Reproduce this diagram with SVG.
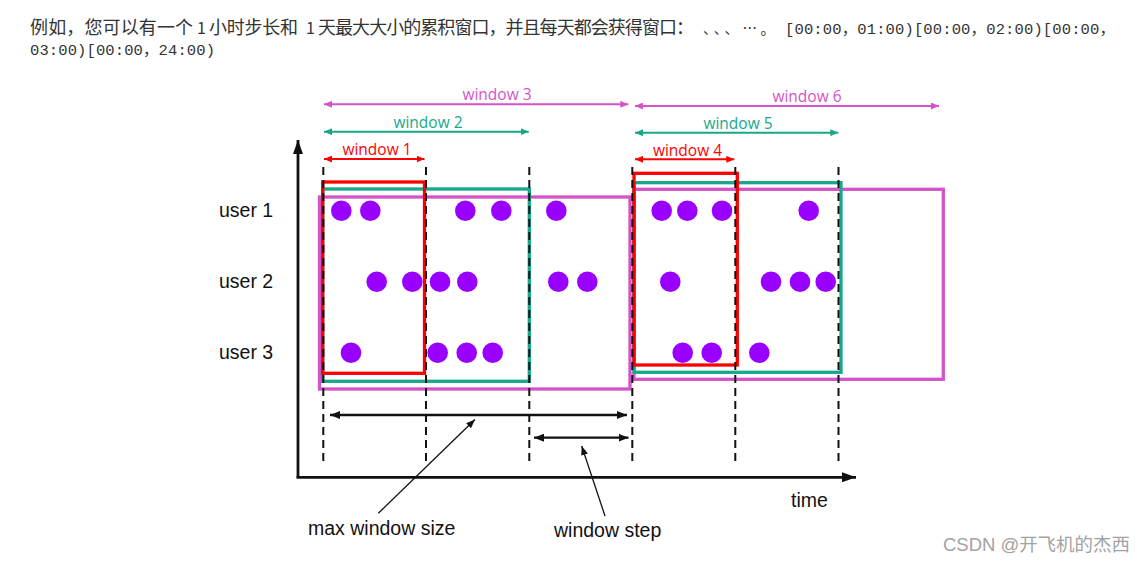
<svg xmlns="http://www.w3.org/2000/svg" width="1148" height="561" viewBox="0 0 1148 561">
<style>
.cjk{font-family:"Noto Sans CJK SC","Noto Sans",sans-serif;font-size:18px;fill:#333}
.mono{font-family:"Liberation Mono","Noto Sans CJK SC",monospace;font-size:15.5px;fill:#333}
.lbl{font-family:"Liberation Sans",Arial,sans-serif;font-size:19.5px;fill:#111}
.wl{font-family:"Open Sans","Liberation Sans",sans-serif;font-size:15.5px;text-anchor:middle}
.dash{stroke:#111;stroke-width:2;stroke-dasharray:8 5;fill:none}
.win{fill:none;stroke-width:3.3}
.red{stroke:#ff0000}
.teal{stroke:#17a88a}
.mag{stroke:#d553c8}
.tred{fill:#ff0000}
.tteal{fill:#17a88a}
.tmag{fill:#d553c8}
.span{stroke-width:2;fill:none}
.dot{fill:#9900ff}
.axis{stroke:#111;stroke-width:2.8;fill:none}
.blk{stroke:#111;stroke-width:2.3;fill:none}
.ptr{stroke:#111;stroke-width:1.3;fill:none}
</style>
<defs>
<marker id="ah-red" viewBox="0 0 10 10" refX="10" refY="5" markerUnits="userSpaceOnUse" markerWidth="8" markerHeight="7" preserveAspectRatio="none" orient="auto-start-reverse"><path d="M0,0L10,5L0,10z" fill="#ff0000"/></marker>
<marker id="ah-teal" viewBox="0 0 10 10" refX="10" refY="5" markerUnits="userSpaceOnUse" markerWidth="8" markerHeight="7" preserveAspectRatio="none" orient="auto-start-reverse"><path d="M0,0L10,5L0,10z" fill="#17a88a"/></marker>
<marker id="ah-mag" viewBox="0 0 10 10" refX="10" refY="5" markerUnits="userSpaceOnUse" markerWidth="8" markerHeight="7" preserveAspectRatio="none" orient="auto-start-reverse"><path d="M0,0L10,5L0,10z" fill="#d553c8"/></marker>
<marker id="ah-blk" viewBox="0 0 10 10" refX="10" refY="5" markerUnits="userSpaceOnUse" markerWidth="10" markerHeight="8" preserveAspectRatio="none" orient="auto-start-reverse"><path d="M0,0L10,5L0,10z" fill="#111"/></marker>
<marker id="ah-ptr" viewBox="0 0 10 10" refX="10" refY="5" markerUnits="userSpaceOnUse" markerWidth="9" markerHeight="7" preserveAspectRatio="none" orient="auto-start-reverse"><path d="M0,0L10,5L0,10z" fill="#111"/></marker>
<marker id="ah-axis" viewBox="0 0 10 10" refX="10" refY="5" markerUnits="userSpaceOnUse" markerWidth="14" markerHeight="10" preserveAspectRatio="none" orient="auto-start-reverse"><path d="M0,0L10,5L0,10z" fill="#111"/></marker>
</defs>

<g id="header">
<text class="cjk" x="30" y="33.5" textLength="163" lengthAdjust="spacing">例如，您可以有一个</text>
<text class="cjk" x="197" y="33.5" style="font-size:16px">1</text>
<text class="cjk" x="209" y="33.5" textLength="89" lengthAdjust="spacing">小时步长和</text>
<text class="cjk" x="306" y="33.5" style="font-size:16px">1</text>
<text class="cjk" x="318" y="33.5" textLength="376" lengthAdjust="spacing">天最大大小的累积窗口，并且每天都会获得窗口：</text>
<text class="cjk" x="703" y="33.5" style="font-size:14.5px" textLength="72" lengthAdjust="spacing">、、、…。</text>
<text class="mono" x="785" y="33.5" textLength="330" lengthAdjust="spacing">[00:00，01:00)[00:00，02:00)[00:00，</text>
<text class="mono" x="30" y="55" textLength="185" lengthAdjust="spacing">03:00)[00:00，24:00)</text>
</g>

<g id="axes">
<line class="axis" x1="298" y1="478" x2="298" y2="140" marker-end="url(#ah-axis)"/>
<line class="axis" x1="296.6" y1="477.3" x2="856" y2="477.3" marker-end="url(#ah-axis)"/>
<text class="lbl" x="791" y="507">time</text>
</g>

<g id="row-labels">
<text class="lbl" x="219" y="217">user 1</text>
<text class="lbl" x="219" y="288">user 2</text>
<text class="lbl" x="219" y="359">user 3</text>
</g>

<g id="window-3"><rect class="win mag" x="319.5" y="197" width="310.5" height="192"/><text class="wl tmag" x="497" y="100">window 3</text></g>
<g id="window-2"><rect class="win teal" x="322.7" y="189" width="206.6" height="192.3"/><text class="wl tteal" x="428" y="127.7">window 2</text></g>
<g id="window-1"><rect class="win red" x="322.7" y="182" width="101.8" height="191.3"/><text class="wl tred" x="377" y="155">window 1</text></g>

<g id="window-6"><rect class="win mag" x="634" y="189.3" width="309.3" height="190"/><text class="wl tmag" x="807" y="101.7">window 6</text></g>
<g id="window-5"><rect class="win teal" x="634" y="182.7" width="207" height="189.6"/><text class="wl tteal" x="738" y="129.3">window 5</text></g>
<g id="window-4"><rect class="win red" x="634" y="173.3" width="103.3" height="191.7"/><text class="wl tred" x="687.5" y="156">window 4</text></g>

<g id="grid">
<line class="dash" x1="323.3" y1="167" x2="323.3" y2="461"/>
<line class="dash" x1="426" y1="167" x2="426" y2="461"/>
<line class="dash" x1="529.3" y1="167" x2="529.3" y2="461"/>
<line class="dash" x1="632.3" y1="167" x2="632.3" y2="461"/>
<line class="dash" x1="735.3" y1="167" x2="735.3" y2="461"/>
<line class="dash" x1="838.5" y1="167" x2="838.5" y2="461"/>
</g>

<g id="dots">
<circle class="dot" cx="341.3" cy="210.7" r="10.3"/>
<circle class="dot" cx="370.3" cy="210.7" r="10.3"/>
<circle class="dot" cx="465.3" cy="210.7" r="10.3"/>
<circle class="dot" cx="501.3" cy="210.7" r="10.3"/>
<circle class="dot" cx="556.3" cy="210.7" r="10.3"/>
<circle class="dot" cx="376.7" cy="281.7" r="10.3"/>
<circle class="dot" cx="412.3" cy="281.7" r="10.3"/>
<circle class="dot" cx="440" cy="281.7" r="10.3"/>
<circle class="dot" cx="467.3" cy="281.7" r="10.3"/>
<circle class="dot" cx="558.3" cy="281.7" r="10.3"/>
<circle class="dot" cx="587.3" cy="281.7" r="10.3"/>
<circle class="dot" cx="351" cy="352.7" r="10.3"/>
<circle class="dot" cx="437.7" cy="352.7" r="10.3"/>
<circle class="dot" cx="466.7" cy="352.7" r="10.3"/>
<circle class="dot" cx="492.7" cy="352.7" r="10.3"/>
<circle class="dot" cx="661.7" cy="210.7" r="10.3"/>
<circle class="dot" cx="687.3" cy="210.7" r="10.3"/>
<circle class="dot" cx="722" cy="210.7" r="10.3"/>
<circle class="dot" cx="808.7" cy="210.7" r="10.3"/>
<circle class="dot" cx="670.3" cy="281.7" r="10.3"/>
<circle class="dot" cx="771" cy="281.7" r="10.3"/>
<circle class="dot" cx="800" cy="281.7" r="10.3"/>
<circle class="dot" cx="825.7" cy="281.7" r="10.3"/>
<circle class="dot" cx="682.7" cy="352.7" r="10.3"/>
<circle class="dot" cx="711.7" cy="352.7" r="10.3"/>
<circle class="dot" cx="759.3" cy="352.7" r="10.3"/>
</g>

<g id="connectors">
<line class="span red" x1="324" y1="159" x2="424.5" y2="159" marker-start="url(#ah-red)" marker-end="url(#ah-red)"/>
<line class="span teal" x1="324" y1="131.7" x2="528.7" y2="131.7" marker-start="url(#ah-teal)" marker-end="url(#ah-teal)"/>
<line class="span mag" x1="324" y1="104.3" x2="628.3" y2="104.3" marker-start="url(#ah-mag)" marker-end="url(#ah-mag)"/>
<line class="span red" x1="635" y1="159.3" x2="734.3" y2="159.3" marker-start="url(#ah-red)" marker-end="url(#ah-red)"/>
<line class="span teal" x1="635" y1="132.7" x2="838.3" y2="132.7" marker-start="url(#ah-teal)" marker-end="url(#ah-teal)"/>
<line class="span mag" x1="635" y1="106" x2="939" y2="106" marker-start="url(#ah-mag)" marker-end="url(#ah-mag)"/>
<line class="blk" x1="330" y1="415" x2="627" y2="415" marker-start="url(#ah-blk)" marker-end="url(#ah-blk)"/>
<line class="blk" x1="534" y1="437.7" x2="628.5" y2="437.7" marker-start="url(#ah-blk)" marker-end="url(#ah-blk)"/>
<line class="ptr" x1="378.3" y1="513.3" x2="475" y2="419.5" marker-end="url(#ah-ptr)"/>
<line class="ptr" x1="605" y1="516" x2="581.7" y2="446" marker-end="url(#ah-ptr)"/>
</g>

<g id="annotations">
<text class="lbl" x="308" y="535">max window size</text>
<text class="lbl" x="554" y="537">window step</text>
</g>

<text x="943" y="551" textLength="187" lengthAdjust="spacing" style="font-family:'Liberation Sans','Noto Sans CJK SC',sans-serif;font-size:18.5px;fill:#a3a3a3">CSDN @开飞机的杰西</text>
</svg>
